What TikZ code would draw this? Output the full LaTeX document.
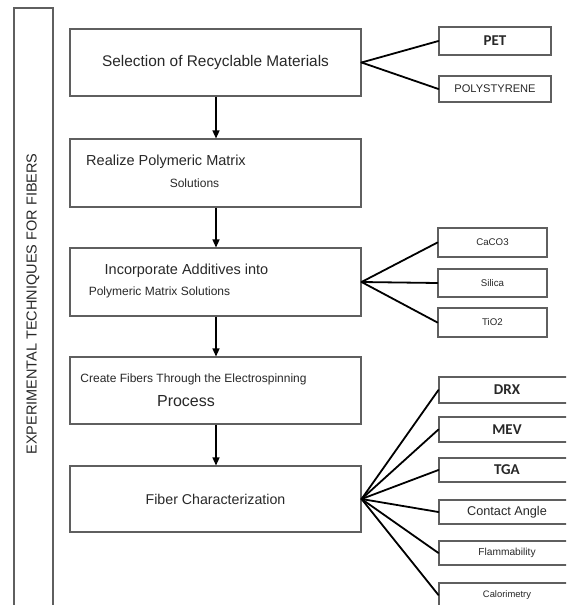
\documentclass[tikz,border=0pt]{standalone}
\usepackage{fontspec}
\setmainfont{Liberation Sans}
\newfontfamily\calib{Carlito}
\usetikzlibrary{arrows.meta}
\definecolor{boxgray}{RGB}{95,95,95}
\definecolor{txtgray}{RGB}{40,40,40}
\newcommand\fsz[1]{\fontsize{#1}{#1}\selectfont}
\begin{document}
\begin{tikzpicture}[x=1pt,y=-1pt,
  mainbox/.style={draw=boxgray, line width=1.1pt, minimum width=291pt, inner sep=0pt, text=txtgray},
  sidebox/.style={draw=boxgray, line width=1.1pt, inner sep=0pt, text=txtgray},
  txt/.style={inner sep=0pt, text=txtgray},
  flow/.style={line width=1.4pt, -{Triangle[length=8pt,width=7pt]}},
  branch/.style={line width=1.8pt, line cap=round}]
\useasboundingbox (0,0) rectangle (566,605);
\clip (0,0) rectangle (566,605);
\fill[white] (0,0) rectangle (566,605);

% left label box
\node[draw=boxgray, line width=1.1pt, minimum width=39pt, minimum height=612pt, inner sep=0pt] (side) at (33.5,314) {};
\node[txt, rotate=90, font=\fsz{14.5}] (sidetxt) at (33,304) {EXPERIMENTAL TECHNIQUES FOR FIBERS};

% main boxes
\node[mainbox, minimum height=67pt, font=\fsz{15.4}] (b1) at (215.5,62.5) {Selection of Recyclable Materials};
\node[mainbox, minimum height=68pt] (b2) at (215.5,173) {};
\node[mainbox, minimum height=68pt] (b3) at (215.5,282) {};
\node[mainbox, minimum height=67pt] (b4) at (215.5,390.5) {};
\node[mainbox, minimum height=66pt, font=\fsz{14.2}] (b5) at (215.5,499) {Fiber Characterization};

\node[txt, font=\fsz{14.5}] (t2a) at (166,162) {Realize Polymeric Matrix};
\node[txt, font=\fsz{12}] (t2b) at (194.5,183) {Solutions};
\node[txt, font=\fsz{14.5}] (t3a) at (186.5,271) {Incorporate Additives into};
\node[txt, font=\fsz{12}] (t3b) at (159.5,292) {Polymeric Matrix Solutions};
\node[txt, font=\fsz{12}] (t4a) at (193.5,379) {Create Fibers Through the Electrospinning};
\node[txt, font=\fsz{16}] (t4b) at (186,401) {Process};

% flow arrows
\draw[flow] (b1.south -| 216,0) -- (b2.north -| 216,0);
\draw[flow] (b2.south -| 216,0) -- (b3.north -| 216,0);
\draw[flow] (b3.south -| 216,0) -- (b4.north -| 216,0);
\draw[flow] (b4.south -| 216,0) -- (b5.north -| 216,0);

% materials
\node[sidebox, minimum width=112pt, minimum height=28pt, font=\calib\bfseries\fsz{15}] (pet) at (495,41) {PET};
\node[sidebox, minimum width=112pt, minimum height=26pt, font=\fsz{11.1}] (ps) at (495,89) {POLYSTYRENE};

% additives
\node[sidebox, minimum width=109pt, minimum height=29pt, font=\fsz{9.7}] (caco) at (492.5,242.5) {CaCO3};
\node[sidebox, minimum width=109pt, minimum height=28pt, font=\fsz{9.7}] (sil) at (492.5,283) {Silica};
\node[sidebox, minimum width=109pt, minimum height=29pt, font=\fsz{9.7}] (tio) at (492.5,322.5) {TiO2};

% characterization
\node[sidebox, minimum width=136pt, minimum height=26pt, font=\calib\bfseries\fsz{15}] (drx) at (507,390) {DRX};
\node[sidebox, minimum width=136pt, minimum height=25pt, font=\calib\bfseries\fsz{15}] (mev) at (507,429.5) {MEV};
\node[sidebox, minimum width=136pt, minimum height=24pt, font=\calib\bfseries\fsz{15}] (tga) at (507,470) {TGA};
\node[sidebox, minimum width=136pt, minimum height=24pt, font=\fsz{12.7}] (ca) at (507,512) {Contact Angle};
\node[sidebox, minimum width=136pt, minimum height=24pt, font=\fsz{10.2}] (fl) at (507,553) {Flammability};
\node[sidebox, minimum width=136pt, minimum height=24pt, font=\fsz{9.4}] (cal) at (507,595) {Calorimetry};

% branches
\foreach \t in {pet,ps} \draw[branch] (b1.east) -- (\t.west);
\foreach \t in {caco,sil,tio} \draw[branch] (b3.east) -- (\t.west);
\foreach \t in {drx,mev,tga,ca,fl,cal} \draw[branch] (b5.east) -- (\t.west);
\end{tikzpicture}
\end{document}
